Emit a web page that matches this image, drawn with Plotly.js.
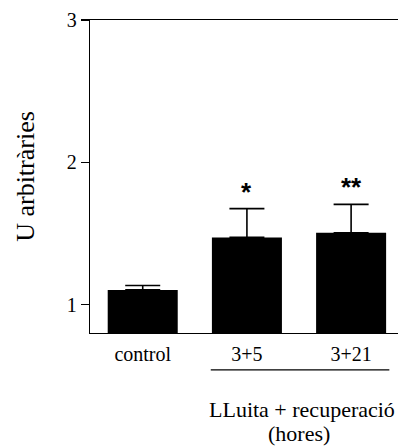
<!DOCTYPE html>
<html>
<head>
<meta charset="utf-8">
<script src="https://cdn.plot.ly/plotly-3.0.1.min.js"></script>
<style>html,body{margin:0;padding:0;background:#fff;}#chart{width:398px;height:448px;}</style>
</head>
<body>
<div id="chart"></div>
<script>
const categories = ['control', '3+5', '3+21'];
const values = [1.103, 1.472, 1.505];
const errorsUp = [0.031, 0.202, 0.199];
const significance = ['', '*', '**'];
const yTickValues = [1, 2, 3];
const yTickLabels = ['1', '2', '3'];
const yTitle = 'U arbitràries';
const groupTitle = ['LLuita + recuperació', '(hores)'];

const serif = '"Times New Roman", "Liberation Serif", "DejaVu Serif", serif';

const trace = {
  type: 'bar',
  x: categories.map((c, i) => i),
  y: values,
  marker: {color: '#000000', line: {width: 0}},
  width: 0.672,
  error_y: {
    type: 'data', symmetric: false, array: errorsUp,
    arrayminus: values.map(() => 0),
    color: '#000000', thickness: 1.6, width: 17.5
  },
  hoverinfo: 'none'
};

const annotations = [];
significance.forEach((s, i) => {
  if (!s) return;
  annotations.push({
    x: i, y: values[i] + errorsUp[i], xref: 'x', yref: 'y',
    text: '<b>' + s + '</b>', showarrow: false, yanchor: 'bottom', yshift: 0,
    font: {family: 'Liberation Sans', size: 26, color: '#000'}
  });
});
annotations.push({
  xref: 'paper', yref: 'paper', x: 0.688, y: -0.245, xanchor: 'center', yanchor: 'middle',
  text: groupTitle[0], showarrow: false, borderpad: 0,
  font: {family: serif, size: 22, color: '#000'}
});
annotations.push({
  xref: 'paper', yref: 'paper', x: 0.679, y: -0.322, xanchor: 'center', yanchor: 'middle',
  text: groupTitle[1], showarrow: false, borderpad: 0,
  font: {family: serif, size: 22, color: '#000'}
});

const layout = {
  width: 398, height: 448,
  margin: {l: 90, r: 0, t: 20, b: 115},
  paper_bgcolor: '#ffffff', plot_bgcolor: '#ffffff',
  showlegend: false,
  font: {family: serif, size: 20, color: '#000'},
  xaxis: {
    range: [-0.506, 2.45],
    tickmode: 'array', tickvals: categories.map((c, i) => i), ticktext: categories,
    ticks: '', showgrid: false, zeroline: false, ticklabelstandoff: 3,
    showline: true, linecolor: '#000', linewidth: 1.3, mirror: true,
    tickfont: {family: serif, size: 20, color: '#000'},
    fixedrange: true
  },
  yaxis: {
    range: [0.8, 3.0],
    tickmode: 'array', tickvals: yTickValues, ticktext: yTickLabels,
    ticks: 'outside', ticklen: 8, tickwidth: 1.2, tickcolor: '#000',
    showgrid: false, zeroline: false,
    showline: true, linecolor: '#000', linewidth: 1.3,
    tickfont: {family: serif, size: 20, color: '#000'},
    title: {text: yTitle, font: {family: serif, size: 26, color: '#000'}, standoff: 24},
    fixedrange: true
  },
  shapes: [{
    type: 'line', xref: 'x', yref: 'paper',
    x0: 0.653, x1: 2.367, y0: -0.118, y1: -0.118,
    line: {color: '#000', width: 1.3}
  }],
  annotations: annotations
};

Plotly.newPlot('chart', [trace], layout, {staticPlot: true, displayModeBar: false});
</script>
</body>
</html>
